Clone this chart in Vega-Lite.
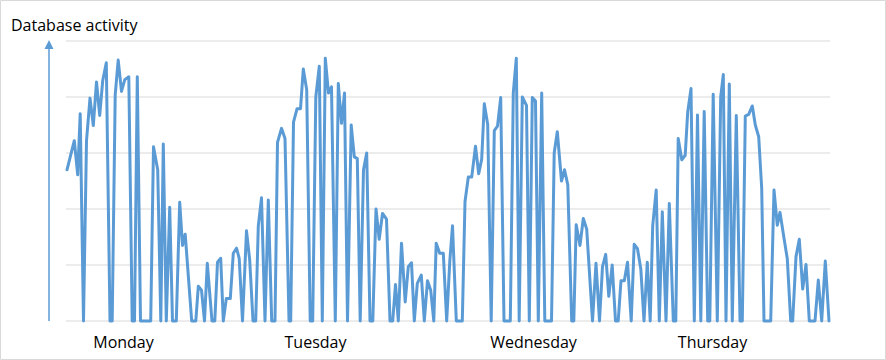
{
  "$schema": "https://vega.github.io/schema/vega-lite/v6.json",
  "width": 781,
  "height": 280,
  "autosize": {"type": "none"},
  "padding": {"left": 49, "top": 41, "right": 56, "bottom": 39},
  "background": "white",
  "config": {"view": {"stroke": "transparent"}},
  "datasets": {
    "activity": [
      {"t": 67, "v": 2.70}, {"t": 74.3, "v": 3.22}, {"t": 77.7, "v": 2.61}, {"t": 80.2, "v": 3.70}, {"t": 83.5, "v": 0},
      {"t": 86.5, "v": 3.22}, {"t": 90, "v": 3.98}, {"t": 93.3, "v": 3.49}, {"t": 96.5, "v": 4.27}, {"t": 99.7, "v": 3.67},
      {"t": 102.7, "v": 4.29}, {"t": 106.3, "v": 4.61}, {"t": 110, "v": 0}, {"t": 112.2, "v": 0}, {"t": 115.2, "v": 4.04},
      {"t": 118.2, "v": 4.66}, {"t": 121.5, "v": 4.10}, {"t": 124.8, "v": 4.31}, {"t": 128.8, "v": 4.36}, {"t": 132.2, "v": 0},
      {"t": 134.5, "v": 0}, {"t": 137.3, "v": 4.36}, {"t": 140.5, "v": 0}, {"t": 150.7, "v": 0}, {"t": 153.5, "v": 3.11},
      {"t": 157.7, "v": 2.70}, {"t": 160.8, "v": 0}, {"t": 163.3, "v": 3.16}, {"t": 166.3, "v": 0}, {"t": 169.7, "v": 2.03},
      {"t": 172.5, "v": 0}, {"t": 176.3, "v": 0}, {"t": 179.7, "v": 2.12}, {"t": 182.5, "v": 1.35}, {"t": 185.2, "v": 1.55},
      {"t": 191.7, "v": 0}, {"t": 195.8, "v": 0}, {"t": 198.3, "v": 0.62}, {"t": 201.5, "v": 0.55}, {"t": 204.5, "v": 0},
      {"t": 207.3, "v": 1.03}, {"t": 210.3, "v": 0.37}, {"t": 212, "v": 0}, {"t": 214.8, "v": 0}, {"t": 217.5, "v": 1.05},
      {"t": 220.7, "v": 1.12}, {"t": 223.3, "v": 0}, {"t": 226.3, "v": 0.40}, {"t": 230.3, "v": 0.40}, {"t": 233.3, "v": 1.21},
      {"t": 236.5, "v": 1.30}, {"t": 239.2, "v": 1.12}, {"t": 242.5, "v": 0}, {"t": 246.5, "v": 1.61}, {"t": 249.7, "v": 1.09},
      {"t": 253, "v": 0}, {"t": 255.7, "v": 0}, {"t": 258.3, "v": 1.70}, {"t": 261.5, "v": 2.20}, {"t": 265, "v": 0},
      {"t": 268.3, "v": 2.16}, {"t": 271.7, "v": 0}, {"t": 275, "v": 0}, {"t": 277.5, "v": 3.19}, {"t": 281.5, "v": 3.44},
      {"t": 285, "v": 3.26}, {"t": 289, "v": 0}, {"t": 290.7, "v": 0}, {"t": 293.5, "v": 3.55}, {"t": 297, "v": 3.79},
      {"t": 300.5, "v": 3.79}, {"t": 303.3, "v": 4.50}, {"t": 306.7, "v": 4.13}, {"t": 310.2, "v": 0}, {"t": 312.7, "v": 0},
      {"t": 315.8, "v": 4.0}, {"t": 319.3, "v": 4.55}, {"t": 322.3, "v": 0}, {"t": 325.3, "v": 4.69}, {"t": 328.5, "v": 4.07},
      {"t": 331.5, "v": 4.18}, {"t": 335.3, "v": 0}, {"t": 338.3, "v": 4.24}, {"t": 341.5, "v": 3.53}, {"t": 344.5, "v": 4.07},
      {"t": 347.5, "v": 0}, {"t": 351.2, "v": 3.5}, {"t": 354.3, "v": 2.93}, {"t": 357.3, "v": 2.9}, {"t": 360.2, "v": 0},
      {"t": 363.5, "v": 2.7}, {"t": 366.7, "v": 3.0}, {"t": 370, "v": 0}, {"t": 372.8, "v": 0}, {"t": 376, "v": 2.0},
      {"t": 379.2, "v": 1.46}, {"t": 382.5, "v": 1.92}, {"t": 386.5, "v": 1.82}, {"t": 390, "v": 0}, {"t": 392.7, "v": 0},
      {"t": 395.5, "v": 0.65}, {"t": 398.3, "v": 0}, {"t": 401.5, "v": 1.39}, {"t": 405.2, "v": 0.34}, {"t": 408.3, "v": 0.97},
      {"t": 411.5, "v": 1.04}, {"t": 414.3, "v": 0}, {"t": 417.3, "v": 0.67}, {"t": 421.3, "v": 0.82}, {"t": 424.3, "v": 0},
      {"t": 427.5, "v": 0.72}, {"t": 430.7, "v": 0.55}, {"t": 433.8, "v": 0}, {"t": 436.2, "v": 1.39}, {"t": 439.7, "v": 1.21},
      {"t": 443.3, "v": 1.21}, {"t": 446.7, "v": 0}, {"t": 449.8, "v": 1.07}, {"t": 452.5, "v": 1.70}, {"t": 456.3, "v": 0},
      {"t": 462.3, "v": 0}, {"t": 465, "v": 2.13}, {"t": 468.3, "v": 2.57}, {"t": 471.7, "v": 2.57}, {"t": 475.5, "v": 3.12},
      {"t": 478.7, "v": 2.63}, {"t": 481.7, "v": 2.89}, {"t": 484.3, "v": 3.88}, {"t": 487.7, "v": 3.51}, {"t": 491.2, "v": 0},
      {"t": 494.3, "v": 3.40}, {"t": 497.5, "v": 3.48}, {"t": 500.7, "v": 3.99}, {"t": 504, "v": 0}, {"t": 510.3, "v": 0},
      {"t": 513.3, "v": 4.08}, {"t": 516.3, "v": 4.69}, {"t": 519.2, "v": 0}, {"t": 522.3, "v": 4.0}, {"t": 526.5, "v": 3.85},
      {"t": 529.3, "v": 0}, {"t": 532.3, "v": 3.99}, {"t": 535.5, "v": 3.93}, {"t": 538.3, "v": 0}, {"t": 541.7, "v": 4.07},
      {"t": 544.8, "v": 0}, {"t": 551.5, "v": 0}, {"t": 554.2, "v": 3.0}, {"t": 557.3, "v": 3.38}, {"t": 561.5, "v": 2.50},
      {"t": 564.5, "v": 2.70}, {"t": 567.8, "v": 2.43}, {"t": 571.7, "v": 0}, {"t": 573.8, "v": 0}, {"t": 576.2, "v": 1.72},
      {"t": 580, "v": 1.35}, {"t": 583.3, "v": 1.83}, {"t": 586.7, "v": 1.64}, {"t": 592.5, "v": 0}, {"t": 596, "v": 1.03},
      {"t": 599.5, "v": 0}, {"t": 602.5, "v": 0.97}, {"t": 605.7, "v": 1.19}, {"t": 608.8, "v": 0.44}, {"t": 612.2, "v": 1.0},
      {"t": 615.5, "v": 0}, {"t": 618.2, "v": 0}, {"t": 621, "v": 0.72}, {"t": 624.3, "v": 0.72}, {"t": 627.5, "v": 1.05},
      {"t": 631.2, "v": 0}, {"t": 634.2, "v": 1.37}, {"t": 637.5, "v": 1.29}, {"t": 640.8, "v": 0.93}, {"t": 644, "v": 0},
      {"t": 647.3, "v": 1.05}, {"t": 650.2, "v": 0}, {"t": 652.7, "v": 1.70}, {"t": 656.2, "v": 2.34}, {"t": 659.3, "v": 0},
      {"t": 662.3, "v": 1.95}, {"t": 666, "v": 0}, {"t": 669.3, "v": 2.10}, {"t": 673.3, "v": 0}, {"t": 675.8, "v": 0},
      {"t": 678.2, "v": 3.26}, {"t": 681.8, "v": 2.88}, {"t": 685.2, "v": 2.96}, {"t": 687.7, "v": 3.73}, {"t": 691, "v": 4.15},
      {"t": 694.3, "v": 0}, {"t": 697.5, "v": 3.68}, {"t": 700.8, "v": 0}, {"t": 704.2, "v": 3.74}, {"t": 707.7, "v": 0},
      {"t": 709.8, "v": 0}, {"t": 713.2, "v": 4.05}, {"t": 717.3, "v": 0}, {"t": 720.7, "v": 4.0}, {"t": 723.3, "v": 4.40},
      {"t": 726, "v": 0}, {"t": 729.3, "v": 4.23}, {"t": 732.3, "v": 0}, {"t": 736.3, "v": 3.67}, {"t": 740, "v": 0},
      {"t": 742.3, "v": 0}, {"t": 745.3, "v": 3.66}, {"t": 748.7, "v": 3.69}, {"t": 752.3, "v": 3.84}, {"t": 755.3, "v": 3.5},
      {"t": 758.7, "v": 3.29}, {"t": 761.7, "v": 2.37}, {"t": 764, "v": 0}, {"t": 770.7, "v": 0}, {"t": 774, "v": 2.34},
      {"t": 777.3, "v": 1.71}, {"t": 780, "v": 1.94}, {"t": 784, "v": 1.48}, {"t": 787.3, "v": 1.11}, {"t": 790.7, "v": 0},
      {"t": 792.7, "v": 0}, {"t": 796, "v": 1.15}, {"t": 799.3, "v": 1.46}, {"t": 802.7, "v": 0.57}, {"t": 806, "v": 1.01},
      {"t": 809.3, "v": 0}, {"t": 815, "v": 0}, {"t": 818.3, "v": 0.73}, {"t": 821.7, "v": 0}, {"t": 825.3, "v": 1.07},
      {"t": 829, "v": 0}
    ],
    "grid": [{"level": 0}, {"level": 1}, {"level": 2}, {"level": 3}, {"level": 4}, {"level": 5}],
    "single": [{"label": "Database activity"}]
  },
  "layer": [
    {
      "data": {"name": "single"},
      "mark": {"type": "rect", "filled": false, "stroke": "#d9d9d9", "strokeWidth": 1, "clip": false},
      "encoding": {
        "x": {"datum": 0.5, "type": "quantitative"},
        "x2": {"datum": 885.5},
        "y": {"datum": 5.723, "type": "quantitative", "axis": null},
        "y2": {"datum": -0.6875}
      }
    },
    {
      "data": {"name": "grid"},
      "mark": {"type": "rule", "stroke": "#d9d9d9", "strokeWidth": 1},
      "encoding": {
        "x": {"datum": 66, "type": "quantitative"},
        "x2": {"datum": 830},
        "y": {"field": "level", "type": "quantitative", "axis": null}
      }
    },
    {
      "data": {"name": "single"},
      "mark": {"type": "rule", "stroke": "#5b9bd5", "strokeWidth": 1.5},
      "encoding": {
        "x": {"datum": 49, "type": "quantitative"},
        "y": {"datum": 0, "type": "quantitative", "axis": null},
        "y2": {"datum": 4.92}
      }
    },
    {
      "data": {"name": "single"},
      "mark": {"type": "point", "shape": "M-1,1L0,-1L1,1Z", "filled": true, "color": "#5b9bd5", "size": 81, "opacity": 1},
      "encoding": {
        "x": {"datum": 49, "type": "quantitative"},
        "y": {"datum": 4.9375, "type": "quantitative", "axis": null}
      }
    },
    {
      "data": {"name": "activity"},
      "mark": {"type": "line", "stroke": "#5b9bd5", "strokeWidth": 3, "strokeJoin": "round", "strokeCap": "round"},
      "encoding": {
        "x": {
          "field": "t",
          "type": "quantitative",
          "scale": {"domain": [49, 830], "nice": false, "zero": false},
          "axis": {
            "values": [123, 315, 533, 712],
            "labelExpr": "datum.value == 123 ? 'Monday' : datum.value == 315 ? 'Tuesday' : datum.value == 533 ? 'Wednesday' : 'Thursday'",
            "domain": false,
            "ticks": false,
            "grid": false,
            "title": null,
            "labelFont": "Open Sans",
            "labelFontSize": 16,
            "labelColor": "#000000",
            "labelPadding": 13,
            "labelOverlap": false,
            "labelFlush": false
          }
        },
        "y": {
          "field": "v",
          "type": "quantitative",
          "scale": {"domain": [0, 5], "nice": false, "zero": false},
          "axis": null
        }
      }
    },
    {
      "data": {"name": "single"},
      "mark": {"type": "text", "align": "left", "baseline": "alphabetic", "font": "Open Sans", "fontSize": 16, "color": "#000000", "clip": false},
      "encoding": {
        "x": {"datum": 11, "type": "quantitative"},
        "y": {"datum": 5.17, "type": "quantitative", "axis": null},
        "text": {"field": "label", "type": "nominal"}
      }
    }
  ]
}
